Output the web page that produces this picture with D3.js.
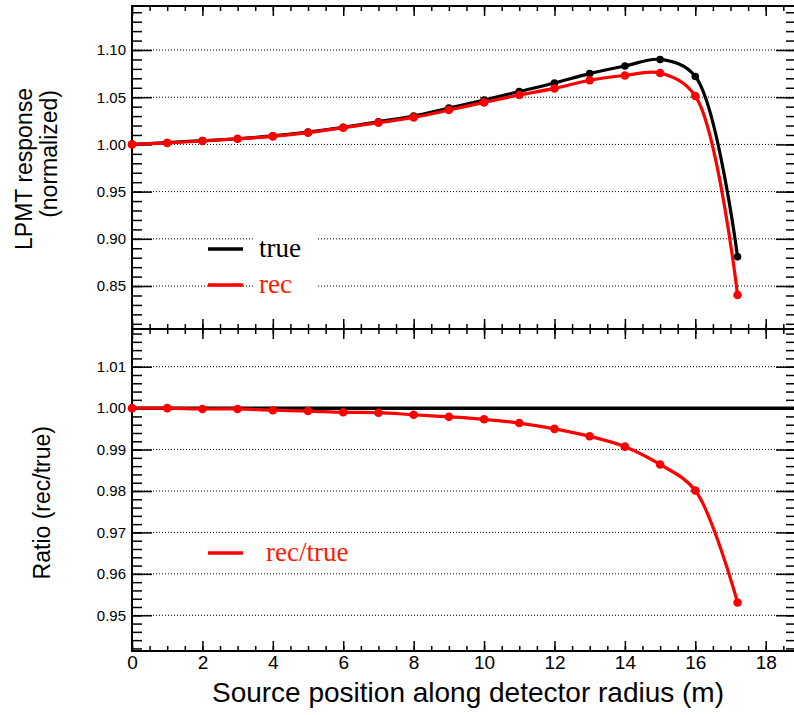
<!DOCTYPE html>
<html lang="en">
<head>
<meta charset="utf-8">
<title>LPMT response vs source position</title>
<script src="https://d3js.org/d3.v7.min.js"></script>
<style>
    body { margin: 0; background: #fff; }
    svg { display: block; }
    .grid line { stroke: #000; stroke-width: 1; stroke-dasharray: 1 2; }
    .title { font-family: 'Liberation Sans', Arial, sans-serif; fill: #000; }
    .legend { font-family: 'Liberation Serif', 'Times New Roman', serif; font-size: 27px; }
</style>
</head>
<body>
<svg width="794" height="715"></svg>
<script>
// source positions (m)
const positions = [0, 1, 2, 3, 4, 5, 6, 7, 8, 9, 10, 11, 12, 13, 14, 15, 16, 17.2];
// normalized LPMT response
const trueResp = [1.000, 1.002, 1.004, 1.006, 1.009, 1.013, 1.018, 1.024, 1.030, 1.0385,
                  1.047, 1.056, 1.065, 1.075, 1.083, 1.090, 1.072, 0.881];
const recResp  = [1.000, 1.0015, 1.0036, 1.006, 1.0085, 1.0124, 1.0177, 1.023, 1.0286, 1.0364,
                  1.0445, 1.0523, 1.0593, 1.068, 1.073, 1.0756, 1.0513, 0.8405];
// rec/true
const ratio    = [1.0000, 1.0000, 0.9998, 0.9998, 0.9995, 0.9993, 0.9990, 0.9989, 0.9984, 0.9979,
                  0.9973, 0.9964, 0.9950, 0.9932, 0.9907, 0.9864, 0.9801, 0.9531];

const xTicks = [0, 2, 4, 6, 8, 10, 12, 14, 16, 18];
const topYTicks = [0.85, 0.90, 0.95, 1.00, 1.05, 1.10];
const botYTicks = [0.95, 0.96, 0.97, 0.98, 0.99, 1.00, 1.01];

const svg = d3.select('svg');

const left = 132, right = 796;
const topPanel = {y0: 6, y1: 329};
const botPanel = {y0: 329, y1: 651};

const x = d3.scaleLinear().domain([0, 18.86]).range([left, right]);
const yTop = d3.scaleLinear().domain([0.8045, 1.1466]).range([topPanel.y1, topPanel.y0]);
const yBot = d3.scaleLinear().domain([0.94138, 1.0191]).range([botPanel.y1, botPanel.y0]);

const xMinor = d3.range(0, 18.86, 0.5);
const topMinor = d3.range(81, 115).map(d => d / 100);
const botMinor = d3.range(471, 510).map(d => d / 500);

function labels(a, size) {
    a.selectAll('.tick text')
        .style('font-family', "'Liberation Sans', Arial, sans-serif")
        .style('font-size', size + 'px')
        .attr('fill', '#000');
}

function panel(y, yp, majors, minors, fmt, showX) {
    const g = svg.append('g');

    // dotted grid at the major y ticks
    g.append('g').attr('class', 'grid')
        .selectAll('line').data(majors).join('line')
        .attr('x1', left).attr('x2', right)
        .attr('y1', d => y(d)).attr('y2', d => y(d));

    // left axis
    g.append('g').attr('transform', `translate(${left},0)`)
        .call(d3.axisLeft(y).tickValues(majors).tickSize(-20).tickPadding(6).tickFormat(fmt))
        .call(a => a.select('.domain').remove())
        .call(a => labels(a, 15));
    g.append('g').attr('transform', `translate(${left},0)`)
        .call(d3.axisLeft(y).tickValues(minors).tickSize(-10).tickFormat(''))
        .call(a => a.select('.domain').remove());
    // right axis
    g.append('g').attr('transform', `translate(${right},0)`)
        .call(d3.axisRight(y).tickValues(majors).tickSize(-20).tickFormat(''))
        .call(a => a.select('.domain').remove());
    g.append('g').attr('transform', `translate(${right},0)`)
        .call(d3.axisRight(y).tickValues(minors).tickSize(-10).tickFormat(''))
        .call(a => a.select('.domain').remove());

    // top & bottom x ticks
    g.append('g').attr('transform', `translate(0,${yp.y0})`)
        .call(d3.axisTop(x).tickValues(xTicks).tickSize(-10).tickFormat(''))
        .call(a => a.select('.domain').remove());
    g.append('g').attr('transform', `translate(0,${yp.y0})`)
        .call(d3.axisTop(x).tickValues(xMinor).tickSize(-5).tickFormat(''))
        .call(a => a.select('.domain').remove());
    g.append('g').attr('transform', `translate(0,${yp.y1})`)
        .call(d3.axisBottom(x).tickValues(xTicks).tickSize(-10).tickPadding(5)
            .tickFormat(showX ? d3.format('d') : ''))
        .call(a => a.select('.domain').remove())
        .call(a => labels(a, 19));
    g.append('g').attr('transform', `translate(0,${yp.y1})`)
        .call(d3.axisBottom(x).tickValues(xMinor).tickSize(-5).tickFormat(''))
        .call(a => a.select('.domain').remove());

    g.selectAll('.tick line').attr('stroke', '#000').attr('stroke-width', 1.5);
    g.append('rect')
        .attr('x', left).attr('y', yp.y0)
        .attr('width', right - left).attr('height', yp.y1 - yp.y0)
        .attr('fill', 'none').attr('stroke', '#000').attr('stroke-width', 2);
    return g;
}

const gTop = panel(yTop, topPanel, topYTicks, topMinor, d3.format('.2f'), false);
const gBot = panel(yBot, botPanel, botYTicks, botMinor, d3.format('.2f'), true);

// legend background box in the top panel
gTop.append('rect').attr('x', 253).attr('y', 226).attr('width', 65).attr('height', 72).attr('fill', '#fff');

function series(g, y, vals, color, r) {
    const pts = positions.map((p, i) => [x(p), y(vals[i])]);
    g.append('path')
        .attr('d', d3.line().curve(d3.curveCatmullRom)(pts))
        .attr('fill', 'none').attr('stroke', color).attr('stroke-width', 3.2);
    g.selectAll(null).data(pts).join('circle')
        .attr('cx', d => d[0]).attr('cy', d => d[1]).attr('r', r).attr('fill', color);
}

series(gTop, yTop, trueResp, '#000', 3.8);
series(gTop, yTop, recResp, '#ff0000', 4.3);

// ratio panel: reference line at 1 and rec/true
gBot.append('line')
    .attr('x1', x(0)).attr('x2', right).attr('y1', yBot(1)).attr('y2', yBot(1))
    .attr('stroke', '#000').attr('stroke-width', 3.5);
series(gBot, yBot, ratio, '#ff0000', 4.3);

// legends
const legend = [
    {g: gTop, y: 249, color: '#000', label: 'true', tx: 259},
    {g: gTop, y: 285, color: '#ff1a00', label: 'rec', tx: 259},
    {g: gBot, y: 553, color: '#ff1a00', label: 'rec/true', tx: 266}
];
legend.forEach(l => {
    l.g.append('line').attr('x1', 208).attr('x2', 243).attr('y1', l.y).attr('y2', l.y)
        .attr('stroke', l.color === '#000' ? '#000' : '#ff0000').attr('stroke-width', 3.5);
    l.g.append('text').attr('class', 'legend').attr('x', l.tx).attr('y', l.y + 8)
        .attr('fill', l.color).text(l.label);
});

// axis titles
svg.append('text').attr('class', 'title').attr('font-size', 28)
    .attr('x', 468).attr('y', 702).attr('text-anchor', 'middle')
    .text('Source position along detector radius (m)');
svg.append('text').attr('class', 'title').attr('font-size', 23)
    .attr('transform', 'translate(32,88) rotate(-90)').attr('text-anchor', 'end')
    .text('LPMT response');
svg.append('text').attr('class', 'title').attr('font-size', 23)
    .attr('transform', 'translate(57,90) rotate(-90)').attr('text-anchor', 'end')
    .text('(normalized)');
svg.append('text').attr('class', 'title').attr('font-size', 23)
    .attr('transform', 'translate(50,426) rotate(-90)').attr('text-anchor', 'end')
    .text('Ratio (rec/true)');
</script>
</body>
</html>
